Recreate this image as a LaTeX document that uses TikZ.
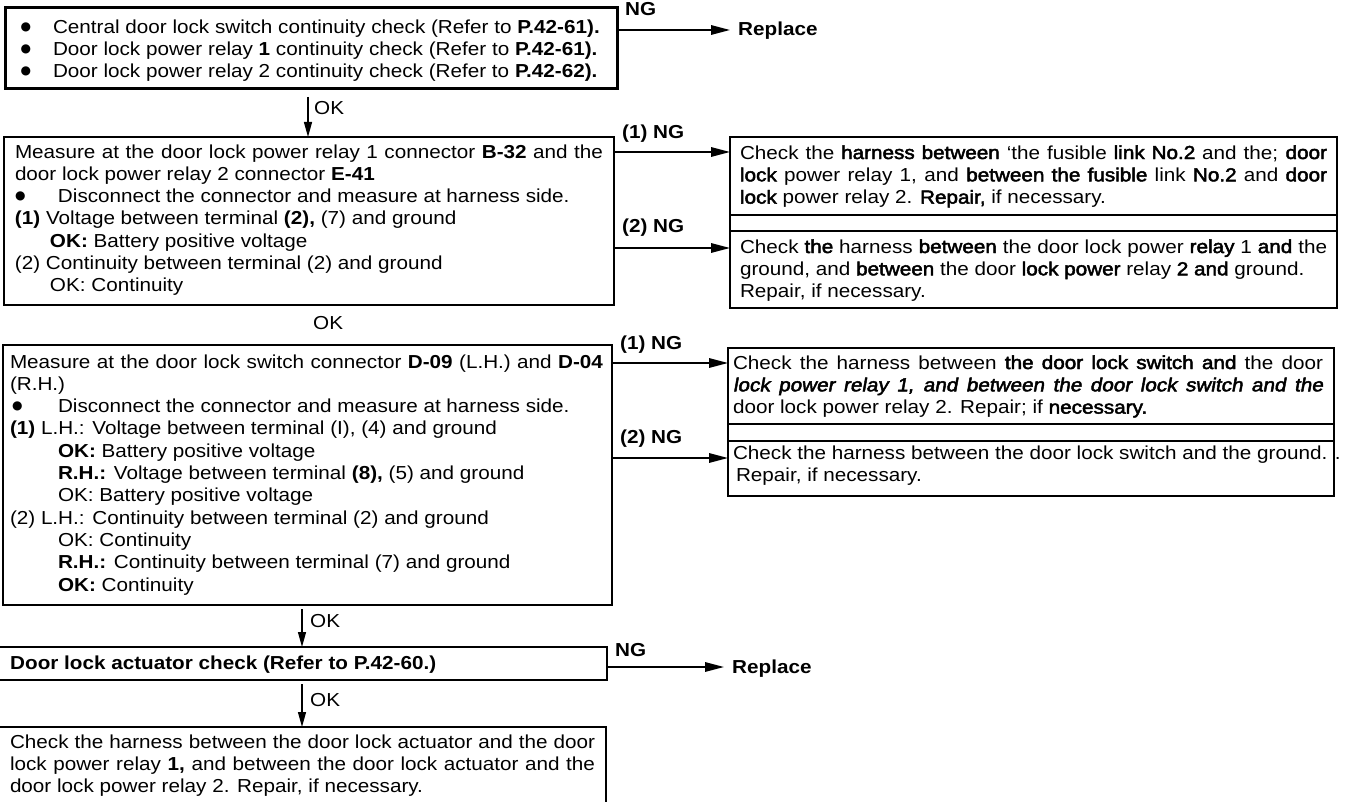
\documentclass[tikz,border=0pt]{standalone}
\usepackage{fontspec}
\setmainfont{Liberation Sans}[FakeStretch=1.1]
\newfontfamily\fbfont{Liberation Sans}[FakeStretch=1.1,FakeBold=2.5]
\newfontfamily\fbifont{Liberation Sans}[FakeStretch=1.1,FakeBold=2.5,FakeSlant=0.18]
\newfontfamily\dejavu{DejaVu Sans}
\newcommand{\fb}[1]{{\fbfont #1}}
\newcommand{\bigbul}{\raisebox{2.8pt}{\dejavu\fontsize{12}{14}\selectfont ●}}
\usetikzlibrary{arrows.meta,calc}
\tikzset{
  bodyfont/.style={font=\fontsize{18.8}{22.3}\selectfont},
  para/.style={bodyfont, anchor=north west, inner sep=0pt, outer sep=0pt, align=left},
  jpara/.style={para, align=justify},
  lbl/.style={font=\fontsize{18.8}{22.3}\selectfont\bfseries, anchor=base west, inner sep=0pt},
  oklbl/.style={font=\fontsize{18.8}{22.3}\selectfont, anchor=base west, inner sep=0pt},
  boxarea/.style={rectangle, anchor=north west, inner sep=0pt, outer sep=0pt},
  boxline/.style={line width=2.4pt},
  arr/.style={line width=1.6pt, -{Triangle[length=19pt,width=9.5pt]}},
  okarr/.style={line width=1.3pt, -{Triangle[length=15pt,width=8pt]}},
}
\begin{document}
\begin{tikzpicture}[x=1pt,y=-1pt]
\useasboundingbox (0,0) rectangle (1346,802);
\fill[white] (0,0) rectangle (1346,802);

% box areas
\node[boxarea, minimum width=612pt, minimum height=81pt] (b1) at (5,8) {};
\node[boxarea, minimum width=610pt, minimum height=168pt] (b2) at (4,137) {};
\node[boxarea, minimum width=607pt, minimum height=78pt] (rA) at (730,137) {};
\node[boxarea, minimum width=607pt, minimum height=77pt] (rB) at (730,231) {};
\node[boxarea, minimum width=609pt, minimum height=260pt] (b3) at (3,345) {};
\node[boxarea, minimum width=606pt, minimum height=76pt] (rC) at (728,348) {};
\node[boxarea, minimum width=606pt, minimum height=55pt] (rD) at (728,441) {};
\node[boxarea, minimum width=607pt, minimum height=33pt] (b4) at (0,647) {};
\node[boxarea, minimum width=606pt, minimum height=75pt] (b5) at (0,727) {};

% borders
\draw[line width=3pt] (b1.north west) rectangle (b1.south east);
\draw[boxline] (b2.north west) rectangle (b2.south east);
\draw[boxline] (rA.north west) rectangle (rB.south east);
\draw[boxline] (rA.south west) -- (rA.south east) (rB.north west) -- (rB.north east);
\draw[boxline] (b3.north west) rectangle (b3.south east);
\draw[boxline] (rC.north west) rectangle (rD.south east);
\draw[boxline] (rC.south west) -- (rC.south east) (rD.north west) -- (rD.north east);
\draw[boxline] (b4.north west) -- (b4.north east) -- (b4.south east) -- (b4.south west);
\draw[boxline] (b5.north west) -- (b5.north east) -- (b5.south east);

% texts
\node[para] (t1) at (53,17.4) {\strut\llap{\bigbul\hspace{22pt}}Central door lock switch continuity check (Refer to \textbf{P.42-61).}\\
\llap{\bigbul\hspace{22pt}}Door lock power relay \textbf{1} continuity check (Refer to \textbf{P.42-61).}\\
\llap{\bigbul\hspace{22pt}}Door lock power relay 2 continuity check (Refer to \textbf{P.42-62).}};

\node[jpara, text width=588pt] (t2) at (15,142.4) {\strut Measure at the door lock power relay 1 connector \textbf{B-32} and the\linebreak door lock power relay 2 connector \textbf{E-41}\\
\makebox[43pt][l]{\bigbul}Disconnect the connector and measure at harness side.\\
\textbf{(1)} Voltage between terminal \textbf{(2),} (7) and ground\\
\hspace*{35pt}\textbf{OK:} Battery positive voltage\\
(2) Continuity between terminal (2) and ground\\
\hspace*{35pt}OK: Continuity};

\node[jpara, text width=587pt] (tA) at (740,143.4) {\strut Check the \fb{harness between} ‘the fusible \fb{link No.2} and the; \fb{door}\linebreak \fb{lock} power relay 1, and \fb{between the fusible} link \fb{No.2} and \fb{door}\linebreak \fb{lock} power relay 2. \fb{Repair,} if necessary.};

\node[jpara, text width=587pt] (tB) at (740,237.4) {\strut Check \fb{the} harness \fb{between} the door lock power \fb{relay} 1 \fb{and} the\linebreak ground, and \fb{between} the door \fb{lock power} relay \fb{2 and} ground.\\ Repair, if necessary.};

\node[jpara, text width=593pt] (t3) at (10,352.4) {\strut Measure at the door lock switch connector \textbf{D-09} (L.H.) and \textbf{D-04}\linebreak (R.H.)\\
\makebox[48pt][l]{\hspace{2pt}\bigbul}Disconnect the connector and measure at harness side.\\
\textbf{(1)} L.H.: Voltage between terminal (I), (4) and ground\\
\hspace*{48pt}\textbf{OK:} Battery positive voltage\\
\hspace*{48pt}\textbf{R.H.:} Voltage between terminal \textbf{(8),} (5) and ground\\
\hspace*{48pt}OK: Battery positive voltage\\
(2) L.H.: Continuity between terminal (2) and ground\\
\hspace*{48pt}OK: Continuity\\
\hspace*{48pt}\textbf{R.H.:} Continuity between terminal (7) and ground\\
\hspace*{48pt}\textbf{OK:} Continuity};

\node[jpara, text width=590pt] (tC) at (733,353.4) {\strut Check the harness between \fb{the door lock switch and} the door\linebreak {\fbifont lock power relay 1, and between the door lock switch and the}\linebreak door lock power relay 2. Repair; if \fb{necessary.}};

\node[para] (tD) at (733,443.4) {\strut Check the harness between the door lock switch and the ground. .\\ \hspace*{3pt}Repair, if necessary.};

\node[lbl] (t4) at (10,669) {Door lock actuator check (Refer to P.42-60.)};

\node[jpara, text width=585pt] (t5) at (10,732.4) {\strut Check the harness between the door lock actuator and the door\linebreak lock power relay \textbf{1,} and between the door lock actuator and the\linebreak door lock power relay 2. Repair, if necessary.};

% labels
\node[lbl] (ng0) at (625,15.5) {NG};
\node[lbl] (rep1) at (738,36) {Replace};
\node[lbl] (ng1) at (622,139) {(1) NG};
\node[lbl] (ng2) at (622,233) {(2) NG};
\node[lbl] (ng3) at (620,349) {(1) NG};
\node[lbl] (ng4) at (620,443) {(2) NG};
\node[lbl] (ng5) at (615,656) {NG};
\node[lbl] (rep2) at (732,673) {Replace};
\node[oklbl] (ok1) at (314,115) {OK};
\node[oklbl] (ok2) at (313,329) {OK};
\node[oklbl] (ok3) at (310,627) {OK};
\node[oklbl] (ok4) at (310,706) {OK};

% helper coordinates
\coordinate (y0) at (0,30);
\coordinate (y1) at (0,152);
\coordinate (y2) at (0,248);
\coordinate (y3) at (0,363);
\coordinate (y4) at (0,458);
\coordinate (y5) at (0,667);
\coordinate (xa) at (308,0);
\coordinate (xb) at (302,0);

% connectors
\draw[arr] (b1.east |- y0) -- ($(rep1.west |- y0)+(-8,0)$);
\draw[arr] (b2.east |- y1) -- (rA.west |- y1);
\draw[arr] (b2.east |- y2) -- (rB.west |- y2);
\draw[arr] (b3.east |- y3) -- (rC.west |- y3);
\draw[arr] (b3.east |- y4) -- (rD.west |- y4);
\draw[arr] (b4.east |- y5) -- ($(rep2.west |- y5)+(-8,0)$);
\draw[okarr] ($(b1.south -| xa)+(0,8)$) -- (b2.north -| xa);
\draw[okarr] ($(b3.south -| xb)+(0,4)$) -- (b4.north -| xb);
\draw[okarr] ($(b4.south -| xb)+(0,4)$) -- (b5.north -| xb);
\end{tikzpicture}
\end{document}
